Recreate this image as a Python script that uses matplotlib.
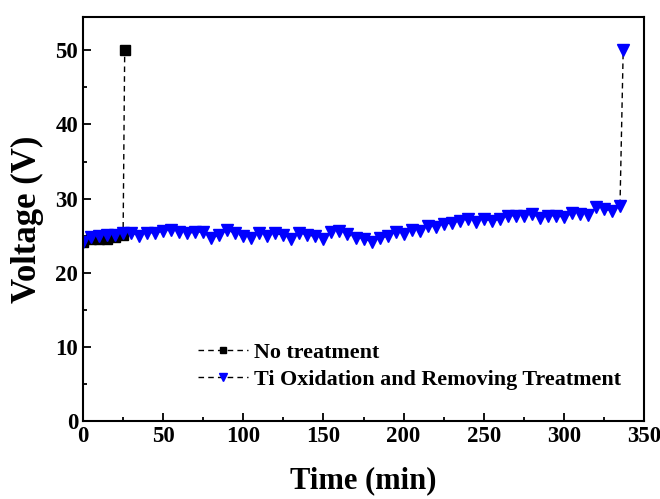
import matplotlib
matplotlib.use("Agg")
import matplotlib.pyplot as plt
from matplotlib.ticker import MultipleLocator

plt.rcParams['font.family'] = ['Liberation Serif', 'DejaVu Serif']
plt.rcParams['font.weight'] = 'bold'

# no treatment: fails at ~25 min
t_none = [0, 5, 10, 15, 20, 25, 26]
v_none = [24.1, 24.5, 24.6, 24.5, 24.8, 25.1, 50]

# Ti oxidation and removing treatment
t_ti = [0, 5, 10, 15, 20, 25, 30, 35, 40, 45, 50, 55, 60, 65, 70, 75, 80, 85, 90, 95,
        100, 105, 110, 115, 120, 125, 130, 135, 140, 145, 150, 155, 160, 165, 170, 175,
        180, 185, 190, 195, 200, 205, 210, 215, 220, 225, 230, 235, 240, 245, 250, 255,
        260, 265, 270, 275, 280, 285, 290, 295, 300, 305, 310, 315, 320, 325, 330, 335, 337]
v_ti = [24.1, 24.8, 25.0, 25.1, 25.1, 25.3, 25.4, 25.0, 25.4, 25.4, 25.6, 25.8, 25.5, 25.3,
        25.5, 25.5, 24.7, 25.1, 25.8, 25.3, 24.9, 24.7, 25.4, 24.9, 25.3, 25.1, 24.6, 25.4,
        25.1, 24.9, 24.6, 25.5, 25.6, 25.2, 24.7, 24.6, 24.2, 24.7, 24.9, 25.5, 25.2, 25.8,
        25.6, 26.3, 26.2, 26.6, 26.7, 27.0, 27.2, 26.8, 27.2, 27.0, 27.2, 27.7, 27.7, 27.7,
        27.9, 27.4, 27.7, 27.7, 27.5, 28.0, 27.9, 27.8, 28.8, 28.6, 28.3, 29.0, 50]

fig = plt.figure(figsize=(6.6, 4.99), dpi=100)
ax = fig.add_axes([0.1258, 0.1563, 0.85, 0.8097])

ax.plot(t_none, v_none, color='black', linestyle=(0, (4, 3)), linewidth=1.0,
        marker='s', markersize=6.5, label='No treatment')
ax.plot(t_ti, v_ti, color='black', linestyle=(0, (4, 3)), linewidth=1.0,
        marker='v', markersize=8.5, markerfacecolor='blue', markeredgecolor='blue',
        label='Ti Oxidation and Removing Treatment')

ax.set_xlim(0, 350)
ax.set_ylim(0, 54.5)
ax.xaxis.set_major_locator(MultipleLocator(50))
ax.xaxis.set_minor_locator(MultipleLocator(25))
ax.yaxis.set_major_locator(MultipleLocator(10))
ax.yaxis.set_minor_locator(MultipleLocator(5))
ax.tick_params(which='both', direction='in', labelsize=16.5, width=1.3)
ax.tick_params(which='major', length=6)
ax.tick_params(which='minor', length=3)
for s in ax.spines.values():
    s.set_linewidth(1.5)

ax.set_xlabel('Time (min)', fontsize=22, fontweight='bold', labelpad=14)
ax.set_ylabel('Voltage (V)', fontsize=25, fontweight='bold', labelpad=8)

ax.legend(loc='lower left', bbox_to_anchor=(0.185, 0.05), frameon=False,
          prop={'size': 15.8, 'weight': 'bold'}, markerscale=0.7,
          handlelength=2.3, handletextpad=0.25, labelspacing=0.3, borderpad=0)

fig.savefig('out.png', dpi=100)
